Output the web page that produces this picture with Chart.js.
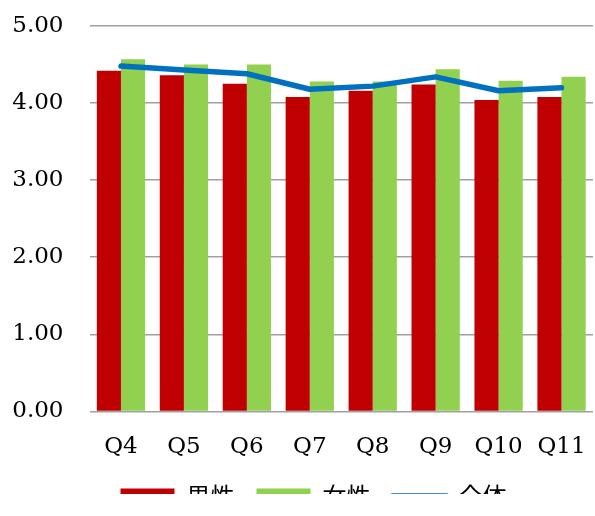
<!DOCTYPE html>
<html>
<head>
<meta charset="utf-8">
<script src="https://cdn.jsdelivr.net/npm/chart.js@4"></script>
<style>
html,body{margin:0;padding:0;background:#fff;}
#wrap{width:595px;height:516px;position:relative;}
</style>
</head>
<body>
<div id="wrap"><canvas id="c"></canvas></div>
<script>
const categories = ['Q4','Q5','Q6','Q7','Q8','Q9','Q10','Q11'];
const maleValues = [4.42,4.36,4.25,4.08,4.16,4.24,4.04,4.08];
const femaleValues = [4.57,4.50,4.50,4.28,4.28,4.44,4.29,4.34];
const totalValues = [4.48,4.43,4.38,4.18,4.22,4.34,4.16,4.20];
const seriesNames = ['男性','女性','全体'];
const yTicks = [0,1,2,3,4,5];

const serif = "'DejaVu Serif', serif";
const cjk = "'Noto Sans CJK JP', 'Noto Sans CJK SC', sans-serif";

const legendShrink = {
  id:'legendShrink',
  beforeUpdate(chart){
    const lg = chart.legend;
    if (lg && !lg._shrunk){
      const orig = lg.fit;
      lg.fit = function(){ orig.call(this); this.height -= 24; };
      lg._shrunk = true;
    }
  },
  afterLayout(chart){
    const lg = chart.legend;
    if (lg){ lg.top -= 21; lg.bottom -= 21; lg.left += 17; lg.right += 17; }
  }
};

new Chart(document.getElementById('c'), {
  data: {
    labels: categories,
    datasets: [
      {type:'line', label: seriesNames[2], data: totalValues, borderColor:'#0070C0', backgroundColor:'#0070C0',
       borderWidth:5.5, pointRadius:0, pointHoverRadius:0, tension:0, order:0, pointStyle:'line', borderCapStyle:'round', borderJoinStyle:'round'},
      {type:'bar', label: seriesNames[0], data: maleValues, backgroundColor:'#C00000', order:1, pointStyle:'rect',
       categoryPercentage:0.767, barPercentage:1.0},
      {type:'bar', label: seriesNames[1], data: femaleValues, backgroundColor:'#92D050', order:1, pointStyle:'rect',
       categoryPercentage:0.767, barPercentage:1.0}
    ]
  },
  plugins:[legendShrink],
  options: {
    responsive:true, maintainAspectRatio:false, animation:false,
    layout:{padding:{top:26,right:2,left:0,bottom:1}},
    plugins:{
      tooltip:{enabled:false},
      legend:{
        position:'bottom',
        labels:{
          usePointStyle:true, pointStyleWidth:54, boxHeight:15,
          font:{family:cjk, size:24}, color:'#000', padding:22,
          generateLabels:(chart)=>{
            const items = Chart.defaults.plugins.legend.labels.generateLabels(chart);
            items.forEach(it=>{
              if (it.pointStyle==='line'){ it.lineWidth = 5.5; it.lineCap = 'round'; }
              else { it.lineWidth = 0; }
            });
            return items;
          },
          sort:(a,b)=>{const o={'男性':0,'女性':1,'全体':2};return o[a.text]-o[b.text];}
        }
      }
    },
    scales:{
      x:{
        grid:{display:false, drawTicks:false}, border:{display:false},
        afterFit:(s)=>{s.paddingLeft=0; s.paddingRight=0;},
        ticks:{font:{family:serif,size:23}, color:'#000', padding:22}
      },
      y:{
        min:0, max:5,
        afterFit:(s)=>{s.width=89.5; s.paddingTop=0; s.paddingBottom=0;},
        afterBuildTicks:(s)=>{s.ticks = yTicks.map(v=>({value:v}));},
        grid:{color:'#a0a0a0', lineWidth:1.5, drawTicks:false},
        border:{display:false},
        ticks:{font:{family:serif,size:23}, color:'#000', padding:26, callback:(v)=>Number(v).toFixed(2)}
      }
    }
  }
});
</script>
</body>
</html>
